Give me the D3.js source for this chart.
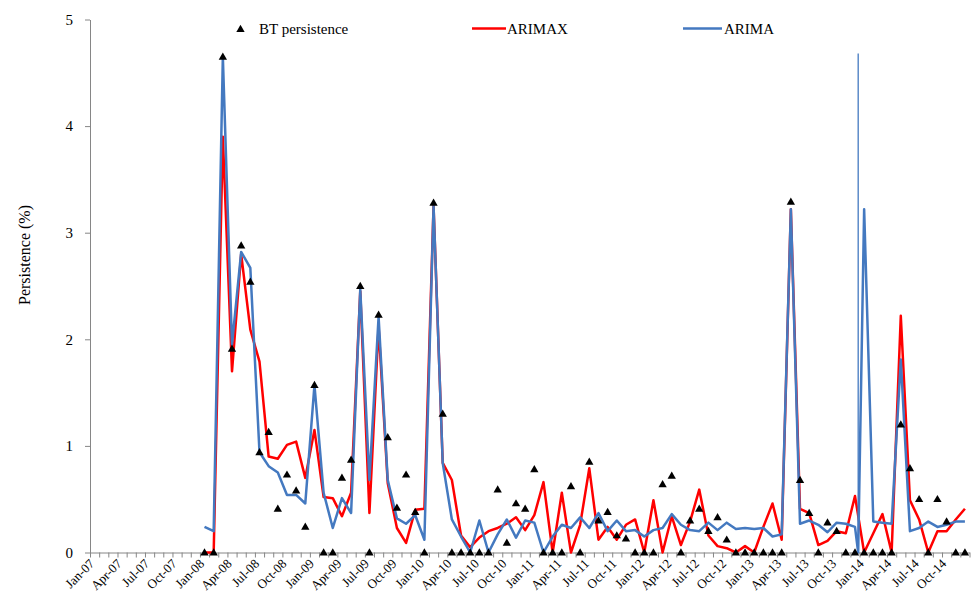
<!DOCTYPE html>
<html>
<head>
<meta charset="utf-8">
<script src="https://cdnjs.cloudflare.com/ajax/libs/d3/7.8.5/d3.min.js"></script>
<style>
  body { margin: 0; background: #fff; }
  text { font-family: "Liberation Serif", "Times New Roman", serif; fill: #000; }
</style>
</head>
<body>
<div id="chart"></div>
<script>

// x axis labels, one every third month from Jan-07
var tickLabels = ["Jan-07","Apr-07","Jul-07","Oct-07","Jan-08","Apr-08","Jul-08","Oct-08",
                  "Jan-09","Apr-09","Jul-09","Oct-09","Jan-10","Apr-10","Jul-10","Oct-10",
                  "Jan-11","Apr-11","Jul-11","Oct-11","Jan-12","Apr-12","Jul-12","Oct-12",
                  "Jan-13","Apr-13","Jul-13","Oct-13","Jan-14","Apr-14","Jul-14","Oct-14"];
var nMonths = 96;
var startMonth = 12; // series start at Jan-08

var btPersistence = [0,0,4.65,1.91,2.88,2.54,0.94,1.13,0.41,0.73,0.58,0.24,
                     1.57,0,0,0.70,0.87,2.50,0,2.23,1.08,0.42,0.73,0.38,
                     0,3.28,1.30,0,0,0,0,0,0.59,0.09,0.46,0.41,
                     0.78,0,0,0,0.62,0,0.85,0.30,0.38,0.16,0.13,0,
                     0,0,0.64,0.72,0,0.30,0.41,0.20,0.33,0.12,0,0,
                     0,0,0,0,3.29,0.68,0.37,0,0.28,0.20,0,0,
                     0,0,0,0,1.20,0.79,0.50,0,0.50,0.29,0,0];

var arimax = [0,0,3.90,1.70,2.80,2.09,1.79,0.90,0.88,1.01,1.04,0.70,
              1.15,0.52,0.51,0.34,0.56,2.45,0.37,2.12,0.65,0.23,0.09,0.40,
              0.41,3.25,0.84,0.68,0.16,0.05,0.14,0.20,0.23,0.27,0.33,0.21,
              0.35,0.66,0,0.56,0,0.26,0.79,0.12,0.24,0.12,0.26,0.31,
              0,0.49,0,0.34,0.07,0.29,0.59,0.16,0.06,0.04,0,0.06,
              0,0.24,0.46,0.12,3.22,0.41,0.37,0.07,0.11,0.20,0.18,0.53,
              0,0.18,0.36,0,2.22,0.49,0.31,0,0.20,0.20,0.31,0.41];

var arima = [0.24,0.20,4.65,1.95,2.82,2.67,0.94,0.81,0.75,0.54,0.54,0.46,
             1.57,0.56,0.23,0.51,0.37,2.47,0.68,2.21,0.68,0.32,0.27,0.35,
             0.12,3.25,0.84,0.31,0.15,0,0.30,0,0.17,0.31,0.14,0.30,
             0.28,0,0.15,0.26,0.23,0.33,0.23,0.37,0.20,0.30,0.20,0.21,
             0.15,0.21,0.23,0.36,0.26,0.21,0.20,0.28,0.21,0.28,0.22,0.23,
             0.22,0.23,0.15,0.17,3.22,0.27,0.30,0.26,0.19,0.28,0.27,0.24,
             3.22,0.29,0.28,0.27,1.81,0.20,0.23,0.29,0.24,0.26,0.29,0.29];

// the ARIMA line dips to zero and shoots up thin between Dec-13 and Jan-14
var arimaSpike = {month: 71.35, low: 0, high: 4.68};

var yTicks = [0, 1, 2, 3, 4, 5];

var width = 979, height = 598;

var svg = d3.select("#chart").append("svg")
    .attr("width", width)
    .attr("height", height);

var x = d3.scaleLinear().domain([0, nMonths]).range([90, 969.5]),
    y = d3.scaleLinear().domain([0, 5]).range([552.5, 19.5]);

function mx(i) { return x(startMonth + i + 0.5); }

// y axis
svg.append("g")
    .attr("class", "y-axis")
    .attr("transform", "translate(" + x(0) + ",0)")
    .call(d3.axisLeft(y).tickValues(yTicks).tickFormat(d3.format("d"))
      .tickSize(5).tickSizeOuter(0).tickPadding(12))
    .style("font-size", "15px");

// x axis tick marks between months
svg.append("g")
    .attr("class", "x-ticks")
    .attr("transform", "translate(0," + y(0) + ")")
    .call(d3.axisBottom(x).tickValues(d3.range(nMonths + 1)).tickSize(5).tickSizeOuter(0).tickFormat(""));

// x axis labels
svg.append("g")
    .attr("class", "x-labels")
    .attr("transform", "translate(0," + y(0) + ")")
    .call(d3.axisBottom(x)
      .tickValues(tickLabels.map(function(d, k) { return k * 3 + 0.5; }))
      .tickFormat(function(d, k) { return tickLabels[k]; })
      .tickSize(0))
    .call(function(g) { g.select(".domain").remove(); })
    .selectAll("text")
      .attr("x", 0).attr("y", 0).attr("dy", null)
      .attr("transform", "translate(0,12) rotate(-45)")
      .style("text-anchor", "end")
      .style("font-size", "13px");

svg.selectAll(".y-axis path, .y-axis line, .x-ticks path, .x-ticks line")
    .attr("stroke", "#868686");

svg.append("text")
    .attr("transform", "translate(30,255) rotate(-90)")
    .style("text-anchor", "middle")
    .style("font-size", "16px")
    .text("Persistence (%)");

var line = d3.line()
    .x(function(d) { return x(startMonth + d[0] + 0.5); })
    .y(function(d) { return y(d[1]); });

var redPts = arimax.map(function(v, i) { return [i, v]; });
var bluePts = arima.map(function(v, i) { return [i, v]; });
bluePts.splice(72, 0, [arimaSpike.month, arimaSpike.low]);

svg.append("path")
    .datum(redPts)
    .attr("d", line)
    .attr("fill", "none")
    .attr("stroke", "#ff0000")
    .attr("stroke-width", 2.5)
    .attr("stroke-linejoin", "round");

svg.append("path")
    .datum(bluePts)
    .attr("d", line)
    .attr("fill", "none")
    .attr("stroke", "#4479c0")
    .attr("stroke-width", 2.5)
    .attr("stroke-linejoin", "round");

svg.append("line")
    .attr("x1", mx(arimaSpike.month)).attr("x2", mx(arimaSpike.month))
    .attr("y1", y(arimaSpike.low)).attr("y2", y(arimaSpike.high))
    .attr("stroke", "#4479c0")
    .attr("stroke-width", 1.3);

var tri = d3.symbol().type(d3.symbolTriangle).size(30);

svg.append("g")
    .selectAll("path")
    .data(btPersistence)
    .enter().append("path")
      .attr("d", tri)
      .attr("fill", "#000")
      .attr("transform", function(d, i) { return "translate(" + mx(i) + "," + (y(d) + 0.5) + ")"; });

// legend
var legend = svg.append("g").style("font-size", "15px");

legend.append("path")
    .attr("d", tri)
    .attr("fill", "#000")
    .attr("transform", "translate(240.5,29.5)");
legend.append("text").attr("x", 259).attr("y", 34).text("BT persistence");

legend.append("line")
    .attr("x1", 472).attr("x2", 506).attr("y1", 28.5).attr("y2", 28.5)
    .attr("stroke", "#ff0000").attr("stroke-width", 2.5);
legend.append("text").attr("x", 507).attr("y", 34).text("ARIMAX");

legend.append("line")
    .attr("x1", 683).attr("x2", 722).attr("y1", 28.5).attr("y2", 28.5)
    .attr("stroke", "#4479c0").attr("stroke-width", 2.5);
legend.append("text").attr("x", 724).attr("y", 34).text("ARIMA");

</script>
</body>
</html>
